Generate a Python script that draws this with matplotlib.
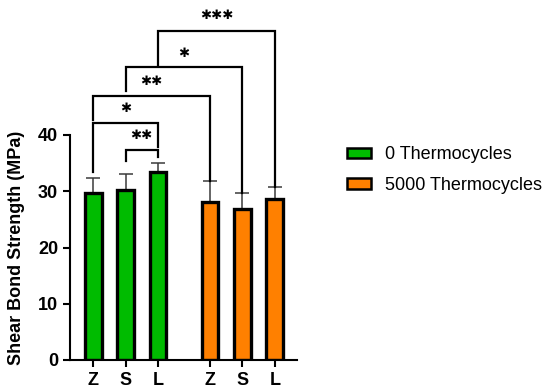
import matplotlib
matplotlib.use("Agg")
import matplotlib.pyplot as plt
from matplotlib.patches import Patch

plt.rcParams['font.family'] = ['Liberation Sans', 'DejaVu Sans']

categories = ["Z", "S", "L", "Z", "S", "L"]
positions = [0, 1, 2, 3.6, 4.6, 5.6]
means = [29.6, 30.3, 33.4, 28.0, 26.8, 28.7]
errs = [2.8, 2.7, 1.7, 3.8, 2.8, 2.1]
groups = ["0 Thermocycles", "5000 Thermocycles"]
group_colors = ["#00BB00", "#FF8000"]
bar_group = [0, 0, 0, 1, 1, 1]

# brackets: (i, j, top, left_bottom, right_bottom, stars, label_y)
brackets = [
    (1, 2, 37.3, 35.4, 36.1, 2, 39.9),
    (0, 2, 42.1, 33.5, 37.9, 1, 44.7),
    (0, 3, 46.9, 42.7, 31.8, 2, 49.5),
    (1, 4, 52.0, 47.9, 29.6, 1, 54.5),
    (2, 5, 58.5, 52.4, 30.8, 3, 61.2),
]

fig = plt.figure(figsize=(5.53, 3.90), dpi=100)
ax = fig.add_axes([70/553, 30/390, (297-70)/553, (360-11.25)/390])

colors = [group_colors[g] for g in bar_group]
ax.bar(positions, means, width=0.52, color=colors, edgecolor="black",
       linewidth=2.4, zorder=2)
ax.errorbar(positions, means, yerr=[[0]*len(errs), errs], fmt="none",
            ecolor="#3a3a3a", elinewidth=1.1, capsize=5, capthick=1.1, zorder=1)

for i, j, top, lb, rb, n, ly in brackets:
    x1, x2 = positions[i], positions[j]
    ax.plot([x1, x1, x2, x2], [lb, top, top, rb], color="black", lw=1.6,
            clip_on=False, zorder=3, solid_joinstyle="miter")
    ax.text((x1 + x2) / 2, ly, "\u2731" * n, ha="center", va="center",
            fontsize=9.5, family=["DejaVu Sans"])

ax.set_ylim(0, 62)
ax.set_xlim(-0.71, 6.28)
ax.set_yticks([0, 10, 20, 30, 40])
ax.set_xticks(positions)
ax.set_xticklabels(categories)
ax.spines['left'].set_bounds(0, 40)
ax.spines['top'].set_visible(False)
ax.spines['right'].set_visible(False)
for s in ['left', 'bottom']:
    ax.spines[s].set_linewidth(1.5)
ax.tick_params(axis='both', width=1.5, length=5, labelsize=13)
for lbl in ax.get_xticklabels() + ax.get_yticklabels():
    lbl.set_fontweight("bold")
ax.set_ylabel("Shear Bond Strength (MPa)", fontsize=13, fontweight="bold")
ax.yaxis.set_label_coords(-0.20, 20/62)

handles = [Patch(facecolor=c, edgecolor="black", linewidth=1.8) for c in group_colors]
fig.legend(handles, groups, loc="upper left", bbox_to_anchor=(331/553, 1 - 130/390),
           frameon=False, fontsize=13, handlelength=1.3, handleheight=0.5,
           labelspacing=0.75, handletextpad=0.8)

fig.savefig("out.png", dpi=100)
